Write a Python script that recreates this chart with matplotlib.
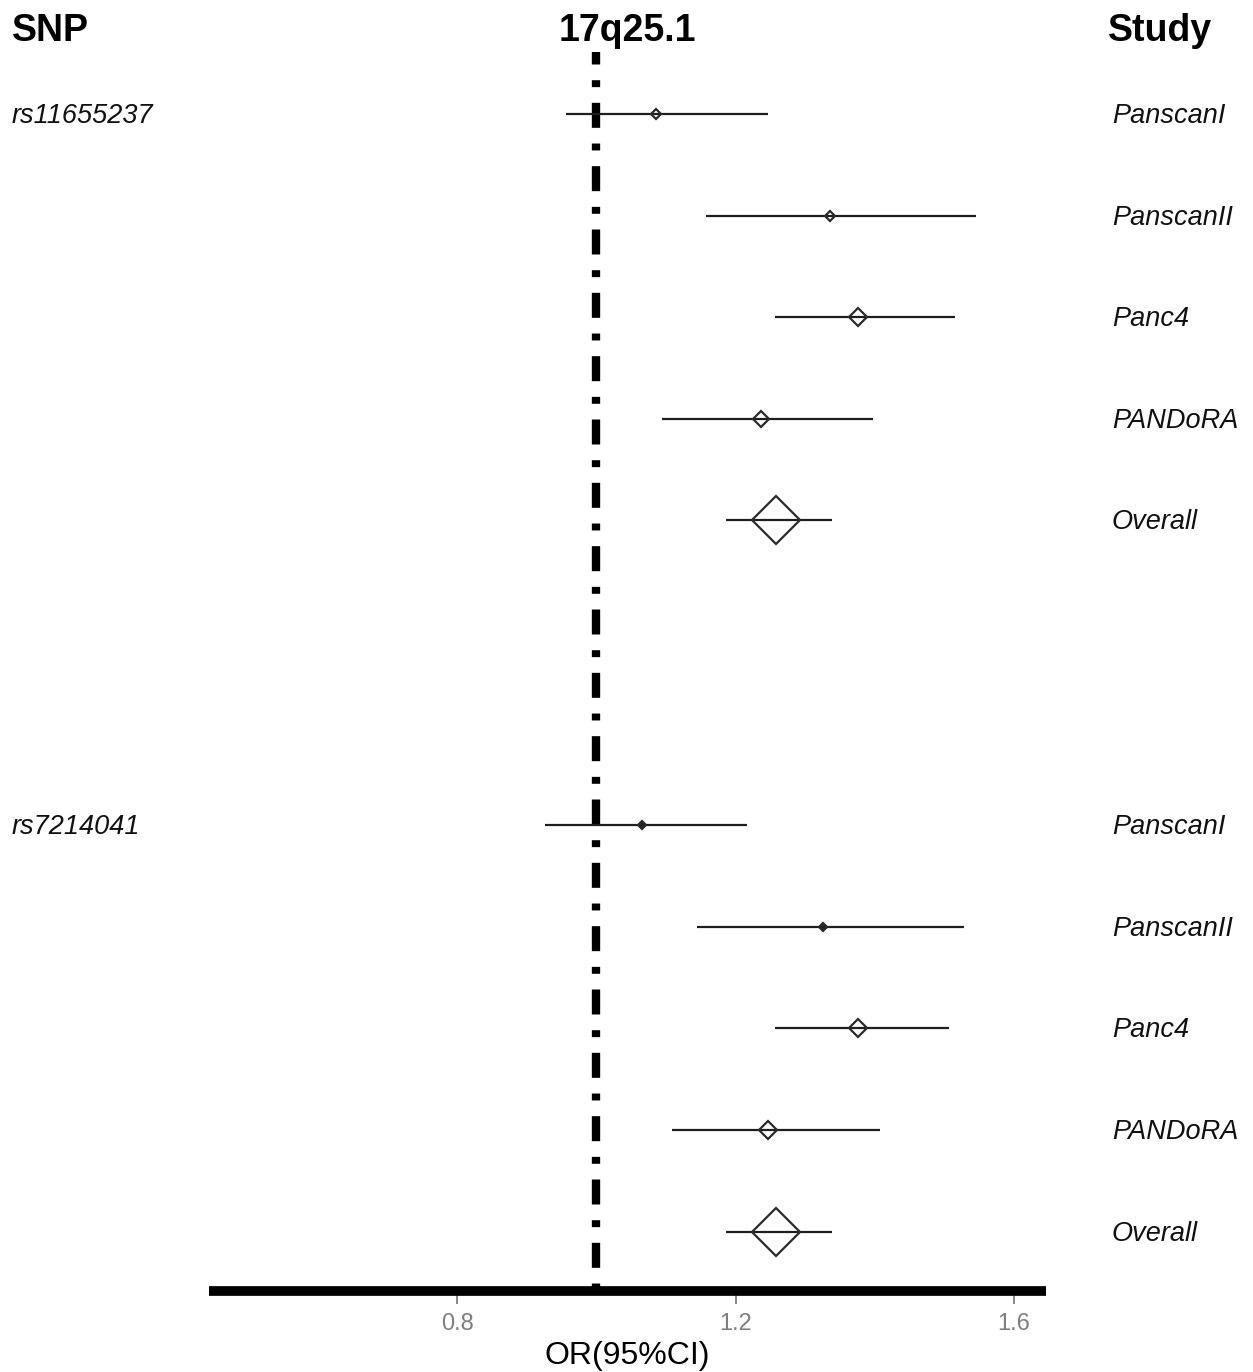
import matplotlib
matplotlib.use("Agg")
import matplotlib.pyplot as plt
import matplotlib.transforms as mtransforms


# ---------------------------------- #
# --------------- DATA -------------- #
# ---------------------------------- #

snps = ["rs11655237", "rs7214041"]
studies = ["PanscanI", "PanscanII", "Panc4", "PANDoRA", "Overall"]

# odds ratios and 95% CI, one list per SNP, in the order of `studies`
or_rs11655237 = [1.086, 1.335, 1.376, 1.236, 1.258]
lo_rs11655237 = [0.957, 1.158, 1.256, 1.095, 1.186]
hi_rs11655237 = [1.247, 1.545, 1.515, 1.397, 1.338]

or_rs7214041 = [1.066, 1.325, 1.376, 1.246, 1.258]
lo_rs7214041 = [0.927, 1.145, 1.256, 1.108, 1.186]
hi_rs7214041 = [1.217, 1.528, 1.506, 1.407, 1.338]

x_ticks = [0.8, 1.2, 1.6]
x_tick_labels = ["0.8", "1.2", "1.6"]

# ---------------------------------- #
# -------------- STYLE -------------- #
# ---------------------------------- #

plt.rcParams["font.family"] = ["Liberation Sans", "DejaVu Sans"]
plt.rcParams["lines.scale_dashes"] = False

W, H = 1253, 1372
ROW_GAP = 7          # rows between the first study of each SNP
# marker size (pt) per study, for each SNP
msize = [[4.8, 4.6, 9.6, 8.6, 24.4],
         [3.8, 3.6, 9.4, 8.8, 24.4]]
mfill = [["none"] * 5,
         ["#222222", "#222222", "none", "none", "none"]]

fig = plt.figure(figsize=(W / 100, H / 100), dpi=100)

# axes box in pixels: left 209, right 1046, top 52, bottom 1291
left_px, right_px, top_px, bot_px = 209, 1046, 52, 1291
ax = fig.add_axes([left_px / W, 1 - bot_px / H,
                   (right_px - left_px) / W, (bot_px - top_px) / H])

row0_px, row_step_px = 114, 101.6
y_top = (top_px - row0_px) / row_step_px
y_bot = (bot_px - row0_px) / row_step_px
ax.set_ylim(y_bot, y_top)
ax.set_xlim(0.4437, 1.6459)

all_or = [or_rs11655237, or_rs7214041]
all_lo = [lo_rs11655237, lo_rs7214041]
all_hi = [hi_rs11655237, hi_rs7214041]

# reference line at OR = 1 (long dash / short dash)
ax.plot([1, 1], [y_top, y_bot], color="black", lw=6.0,
        dash_capstyle="butt", linestyle=(9.0, (18, 11.3, 5.0, 11.3)), zorder=1,
        clip_on=False)

label_tf = mtransforms.blended_transform_factory(fig.transFigure, ax.transData)

for g, snp in enumerate(snps):
    for i, study in enumerate(studies):
        y = g * ROW_GAP + i
        ax.plot([all_lo[g][i], all_hi[g][i]], [y, y], color="#1e1e1e", lw=1.6,
                solid_capstyle="butt", zorder=2)
        ax.plot(all_or[g][i], y, marker="D", ms=msize[g][i], mfc=mfill[g][i],
                mec="#2a2a2a", mew=1.6, zorder=3)
        # study label on the right
        ax.text(1112 / W, y + 0.02, study, transform=label_tf, fontsize=19.5,
                style="italic", ha="left", va="center", color="#111111")
    # SNP label on the left
    ax.text(12 / W, g * ROW_GAP + 0.02, snp, transform=label_tf, fontsize=19.5,
            style="italic", ha="left", va="center", color="#111111")

# axis cosmetics
for side in ["top", "left", "right"]:
    ax.spines[side].set_visible(False)
ax.spines["bottom"].set_linewidth(7.0)
ax.spines["bottom"].set_color("black")
ax.spines["bottom"].set_capstyle("butt")
ax.spines["bottom"].set_zorder(4)
ax.set_yticks([])
ax.set_xticks(x_ticks)
ax.set_xticklabels(x_tick_labels)
ax.tick_params(axis="x", length=9, width=1.3, color="#7f7f7f", labelcolor="#7f7f7f",
               labelsize=17, pad=7)
ax.set_xlabel("OR(95%CI)", fontsize=23, labelpad=4, color="black")
ax.patch.set_visible(False)

# headers
fig.text(12 / W, 1 - 31 / H, "SNP", fontsize=27, fontweight="bold", ha="left", va="center")
fig.text((left_px + right_px) / 2 / W, 1 - 31 / H, "17q25.1", fontsize=27,
         fontweight="bold", ha="center", va="center")
fig.text(1108 / W, 1 - 31 / H, "Study", fontsize=27, fontweight="bold", ha="left", va="center")

fig.savefig("out.png", dpi=100)
plt.close()
